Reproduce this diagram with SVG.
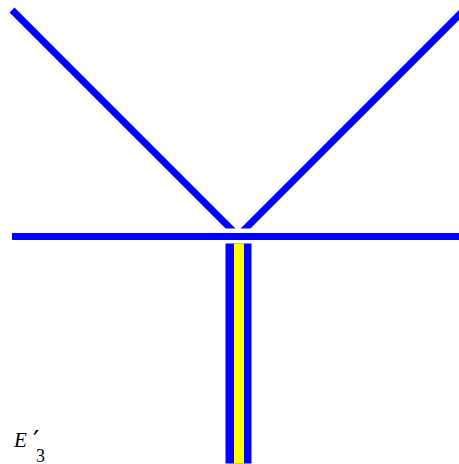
<svg xmlns="http://www.w3.org/2000/svg" width="459" height="464" viewBox="0 0 459 464">
<style>
.b{stroke:#0000ff;stroke-width:7;fill:none}
.lbl{font-family:"Liberation Serif",serif}
</style>
<defs>
<clipPath id="top"><rect x="0" y="0" width="459" height="228.5"/></clipPath>
</defs>
<g id="connectors">
<g clip-path="url(#top)">
<line class="b" x1="12" y1="10" x2="240" y2="238"/>
<line class="b" x1="470" y1="4" x2="240" y2="234"/>
</g>
<line class="b" x1="12" y1="236.5" x2="470" y2="236.5"/>
</g>
<g id="bar">
<rect x="225.5" y="243.5" width="26" height="220" fill="#0000ff"/>
<rect x="234" y="243.5" width="10" height="220" fill="#ffff00"/>
</g>
<g id="label">
<text class="lbl" x="14" y="446.7" font-size="21" font-style="italic" font-family="DejaVu Serif, serif">E<tspan x="33" y="451" font-size="28" font-style="normal" font-family="DejaVu Sans, sans-serif">′</tspan><tspan x="36" y="461.5" font-size="18" font-style="normal" font-family="Liberation Serif, serif">3</tspan></text>
</g>
</svg>
